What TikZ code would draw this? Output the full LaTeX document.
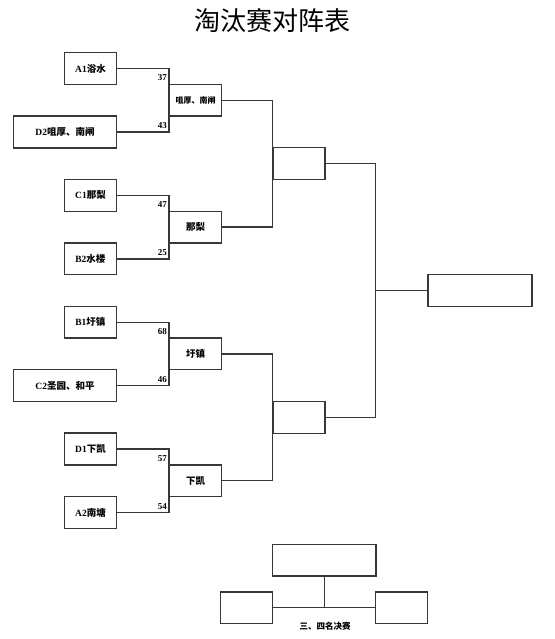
\documentclass[tikz,border=0pt]{standalone}
\usepackage{fontspec}
\setmainfont{Liberation Serif}
\newfontfamily\cjk{Noto Sans CJK SC}
\newcommand{\lb}[2]{{\bfseries #1}{\cjk\bfseries #2}}
\tikzset{
  ln/.style={draw=black!78, line width=1.4pt},
  bx/.style={draw=black!78, line width=1.4pt, inner sep=0pt, minimum height=31.7pt, font=\fontsize{9.5}{9.5}\selectfont},
  sbx/.style={bx, minimum width=52.3pt},
  lbx/.style={bx, minimum width=103.3pt},
  wbx/.style={bx, minimum width=51.7pt},
  score/.style={inner sep=0pt, font=\bfseries\fontsize{9}{9}\selectfont}
}
\begin{document}
\begin{tikzpicture}[x=1pt,y=-1pt]
\useasboundingbox (0,0) rectangle (554,639);
% title
\node[inner sep=0pt, font=\cjk\fontsize{26}{26}\selectfont] (title) at (272.5,20.5) {淘汰赛对阵表};
% round 1
\node[sbx, anchor=east] (a1) at (117.3,68.6) {\lb{A1}{浴水}};
\node[lbx, anchor=east] (d2) at (117.3,132) {\lb{D2}{咀厚、南闸}};
\node[sbx, anchor=east] (c1) at (117.3,195.4) {\lb{C1}{那梨}};
\node[sbx, anchor=east] (b2) at (117.3,258.8) {\lb{B2}{水楼}};
\node[sbx, anchor=east] (b1) at (117.3,322.2) {\lb{B1}{圩镇}};
\node[lbx, anchor=east] (c2) at (117.3,385.6) {\lb{C2}{圣园、和平}};
\node[sbx, anchor=east] (d1) at (117.3,449) {\lb{D1}{下凯}};
\node[sbx, anchor=east] (a2) at (117.3,512.4) {\lb{A2}{南塘}};
% round 2 winners
\node[wbx, anchor=west, font=\cjk\bfseries\fontsize{8}{8}\selectfont] (w1) at (169,100.3) {咀厚、南闸};
\node[wbx, anchor=west, font=\cjk\bfseries\fontsize{9.5}{9.5}\selectfont] (w2) at (169,227.1) {那梨};
\node[wbx, anchor=west, font=\cjk\bfseries\fontsize{9.5}{9.5}\selectfont] (w3) at (169,353.9) {圩镇};
\node[wbx, anchor=west, font=\cjk\bfseries\fontsize{9.5}{9.5}\selectfont] (w4) at (169,480.7) {下凯};
% round 3
\node[bx, minimum width=51.8pt, minimum height=32pt, anchor=west] (s1) at (272.5,163.7) {};
\node[bx, minimum width=51.8pt, minimum height=32pt, anchor=west] (s2) at (272.5,417.3) {};
% final
\node[bx, minimum width=104pt, minimum height=31.6pt, anchor=west] (fin) at (427.3,290.5) {};
\coordinate (fj) at (375.7,290.5);
% connectors round 1
\draw[ln] (a1.east) -- (a1.east -| w1.west) -- (d2.east -| w1.west) -- (d2.east);
\draw[ln] (c1.east) -- (c1.east -| w2.west) -- (b2.east -| w2.west) -- (b2.east);
\draw[ln] (b1.east) -- (b1.east -| w3.west) -- (c2.east -| w3.west) -- (c2.east);
\draw[ln] (d1.east) -- (d1.east -| w4.west) -- (a2.east -| w4.west) -- (a2.east);
% connectors round 2
\draw[ln] (w1.east) -- (w1.east -| s1.west) -- (w2.east -| s1.west) -- (w2.east);
\draw[ln] (w3.east) -- (w3.east -| s2.west) -- (w4.east -| s2.west) -- (w4.east);
% connectors round 3
\draw[ln] (s1.east) -- (s1.east -| fj) -- (s2.east -| fj) -- (s2.east);
\draw[ln] (fj) -- (fin.west);
% scores
\node[score, anchor=north east] (sc1) at (167,74.6) {37};
\node[score, anchor=south east] (sc2) at (167,129.2) {43};
\node[score, anchor=north east] (sc3) at (167,201.6) {47};
\node[score, anchor=south east] (sc4) at (167,256) {25};
\node[score, anchor=north east] (sc5) at (167,328.4) {68};
\node[score, anchor=south east] (sc6) at (167,382.8) {46};
\node[score, anchor=north east] (sc7) at (167,455.2) {57};
\node[score, anchor=south east] (sc8) at (167,509.6) {54};
% third place
\node[bx, minimum width=103.7pt, anchor=center] (t0) at (324.15,560.2) {};
\node[bx, minimum width=52pt, minimum height=31.3pt] (tl) at (246.7,607.7) {};
\node[bx, minimum width=52pt, minimum height=31.3pt] (tr) at (401.7,607.7) {};
\coordinate (tj) at (324.3,607.7);
\draw[ln] (t0.south -| tj) -- (tj);
\draw[ln] (tl.east) -- (tr.west);
\node[inner sep=0pt, font=\cjk\bfseries\fontsize{8.5}{8.5}\selectfont] (tlab) at (325,626) {三、四名决赛};
\end{tikzpicture}
\end{document}
